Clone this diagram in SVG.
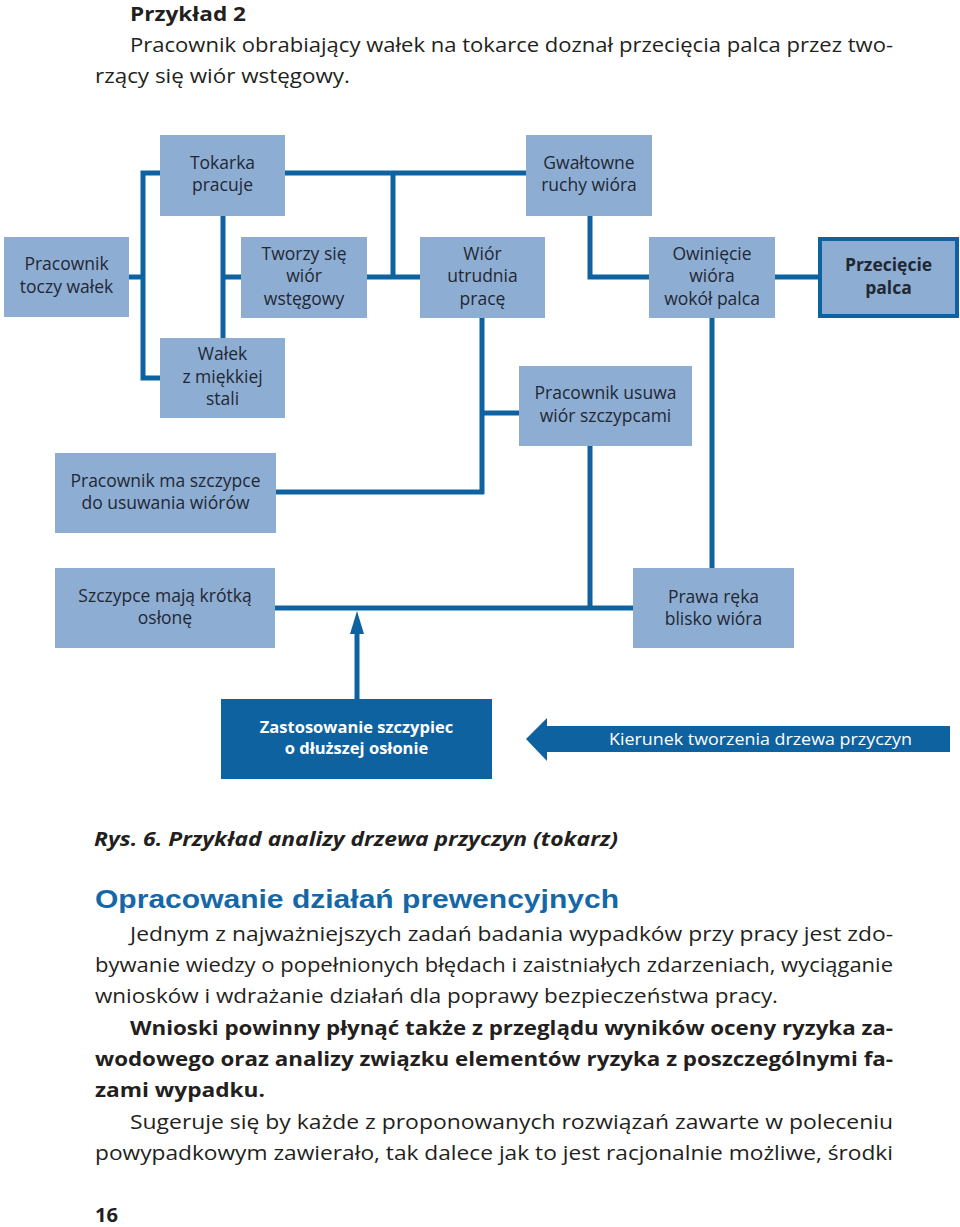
<svg xmlns="http://www.w3.org/2000/svg" width="960" height="1227" viewBox="0 0 960 1227">
<style>
.box{fill:#8eadd3}
.nt{font-family:"Open Sans","Noto Sans","Liberation Sans",sans-serif;font-size:17.5px;fill:#1f2833;text-anchor:middle}
.ntb{font-weight:700}
.wt{fill:#ffffff}
.conn{fill:none;stroke:#0f62a0;stroke-width:5;stroke-linecap:butt;stroke-linejoin:miter}
.body{font-family:"Open Sans","Noto Sans","Liberation Sans",sans-serif;font-size:20px;fill:#231f20}
.bold{font-weight:700}
</style>

<!-- header text -->
<text class="body bold" x="130" y="21" font-size="21" textLength="116" lengthAdjust="spacingAndGlyphs">Przykład 2</text>
<text class="body" x="130" y="52" textLength="763" lengthAdjust="spacingAndGlyphs">Pracownik obrabiający wałek na tokarce doznał przecięcia palca przez two-</text>
<text class="body" x="95" y="83" textLength="255" lengthAdjust="spacingAndGlyphs">rzący się wiór wstęgowy.</text>

<!-- connectors -->
<g id="connectors">
<path class="conn" d="M160 173 H143 V378 H160"/>
<path class="conn" d="M129 277 H143"/>
<path class="conn" d="M223 216 V338"/>
<path class="conn" d="M223 277 H241"/>
<path class="conn" d="M285 173 H526"/>
<path class="conn" d="M393 173 V277"/>
<path class="conn" d="M367 277 H420"/>
<path class="conn" d="M590 216 V277 H649"/>
<path class="conn" d="M775 277 H818"/>
<path class="conn" d="M482 318 V494"/>
<path class="conn" d="M482 413 H519"/>
<path class="conn" d="M276 492 H484"/>
<path class="conn" d="M712 318 V568"/>
<path class="conn" d="M590 446 V608"/>
<path class="conn" d="M275 608 H633"/>
<path class="conn" d="M357 699 V633"/>
<path d="M350 634 L357 611 L364 634 Z" fill="#0f62a0"/>
</g>

<!-- nodes -->
<g id="n-tokarka">
<rect class="box" x="160" y="135" width="125" height="81"/>
<text class="nt" x="222.5" y="169">Tokarka</text>
<text class="nt" x="222.5" y="191">pracuje</text>
</g>
<g id="n-gwaltowne">
<rect class="box" x="526" y="135" width="126" height="81"/>
<text class="nt" x="589" y="169">Gwałtowne</text>
<text class="nt" x="589" y="191">ruchy wióra</text>
</g>
<g id="n-pracownik-toczy">
<rect class="box" x="4" y="237" width="125" height="80"/>
<text class="nt" x="66.5" y="270">Pracownik</text>
<text class="nt" x="66.5" y="293">toczy wałek</text>
</g>
<g id="n-tworzy">
<rect class="box" x="241" y="237" width="126" height="81"/>
<text class="nt" x="304" y="260">Tworzy się</text>
<text class="nt" x="304" y="282">wiór</text>
<text class="nt" x="304" y="305">wstęgowy</text>
</g>
<g id="n-wior">
<rect class="box" x="420" y="237" width="125" height="81"/>
<text class="nt" x="482.5" y="260">Wiór</text>
<text class="nt" x="482.5" y="282">utrudnia</text>
<text class="nt" x="482.5" y="305">pracę</text>
</g>
<g id="n-owiniecie">
<rect class="box" x="649" y="237" width="126" height="81"/>
<text class="nt" x="712" y="260">Owinięcie</text>
<text class="nt" x="712" y="282">wióra</text>
<text class="nt" x="712" y="305">wokół palca</text>
</g>
<g id="n-przeciecie">
<rect class="box" x="820" y="239" width="137" height="77" stroke="#0f62a0" stroke-width="4"/>
<text class="nt ntb" x="888.5" y="271">Przecięcie</text>
<text class="nt ntb" x="888.5" y="294">palca</text>
</g>
<g id="n-walek">
<rect class="box" x="160" y="338" width="125" height="80"/>
<text class="nt" x="222.5" y="360">Wałek</text>
<text class="nt" x="222.5" y="383">z miękkiej</text>
<text class="nt" x="222.5" y="405">stali</text>
</g>
<g id="n-usuwa">
<rect class="box" x="519" y="366" width="173" height="80"/>
<text class="nt" x="605.5" y="399">Pracownik usuwa</text>
<text class="nt" x="605.5" y="422">wiór szczypcami</text>
</g>
<g id="n-ma-szczypce">
<rect class="box" x="55" y="453" width="221" height="80"/>
<text class="nt" x="165.5" y="487">Pracownik ma szczypce</text>
<text class="nt" x="165.5" y="509">do usuwania wiórów</text>
</g>
<g id="n-krotka">
<rect class="box" x="55" y="568" width="220" height="80"/>
<text class="nt" x="165" y="602">Szczypce mają krótką</text>
<text class="nt" x="165" y="624">osłonę</text>
</g>
<g id="n-prawa">
<rect class="box" x="633" y="568" width="161" height="80"/>
<text class="nt" x="713.5" y="603">Prawa ręka</text>
<text class="nt" x="713.5" y="625">blisko wióra</text>
</g>
<g id="n-zastosowanie">
<rect x="221" y="699" width="271" height="80" fill="#0f62a0"/>
<text class="nt ntb wt" x="356.5" y="733" style="font-size:16.5px">Zastosowanie szczypiec</text>
<text class="nt ntb wt" x="356.5" y="754" style="font-size:16.5px">o dłuższej osłonie</text>
</g>
<g id="n-kierunek">
<path d="M526 739 L547 718 L547 726 L950 726 L950 752 L547 752 L547 761 Z" fill="#0f62a0"/>
<text class="nt wt" x="609" y="745" style="text-anchor:start;font-size:17px" textLength="303" lengthAdjust="spacingAndGlyphs">Kierunek tworzenia drzewa przyczyn</text>
</g>

<!-- caption and text below -->
<text class="body bold" x="94" y="846" font-style="italic" textLength="524" lengthAdjust="spacingAndGlyphs">Rys. 6. Przykład analizy drzewa przyczyn (tokarz)</text>
<text x="95" y="908" font-family="'Liberation Sans',Arial,sans-serif" font-weight="700" font-size="25" fill="#1568a8" textLength="524" lengthAdjust="spacingAndGlyphs">Opracowanie działań prewencyjnych</text>
<text class="body" x="130" y="941" textLength="763" lengthAdjust="spacingAndGlyphs">Jednym z najważniejszych zadań badania wypadków przy pracy jest zdo-</text>
<text class="body" x="95" y="972" textLength="798" lengthAdjust="spacingAndGlyphs">bywanie wiedzy o popełnionych błędach i zaistniałych zdarzeniach, wyciąganie</text>
<text class="body" x="95" y="1003" textLength="683" lengthAdjust="spacingAndGlyphs">wniosków i wdrażanie działań dla poprawy bezpieczeństwa pracy.</text>
<text class="body bold" x="130" y="1035" textLength="763" lengthAdjust="spacingAndGlyphs">Wnioski powinny płynąć także z przeglądu wyników oceny ryzyka za-</text>
<text class="body bold" x="95" y="1066" textLength="798" lengthAdjust="spacingAndGlyphs">wodowego oraz analizy związku elementów ryzyka z poszczególnymi fa-</text>
<text class="body bold" x="95" y="1097" textLength="170" lengthAdjust="spacingAndGlyphs">zami wypadku.</text>
<text class="body" x="130" y="1129" textLength="763" lengthAdjust="spacingAndGlyphs">Sugeruje się by każde z proponowanych rozwiązań zawarte w poleceniu</text>
<text class="body" x="95" y="1160" textLength="798" lengthAdjust="spacingAndGlyphs">powypadkowym zawierało, tak dalece jak to jest racjonalnie możliwe, środki</text>
<text class="body bold" x="95" y="1222" textLength="23" lengthAdjust="spacingAndGlyphs">16</text>
</svg>
